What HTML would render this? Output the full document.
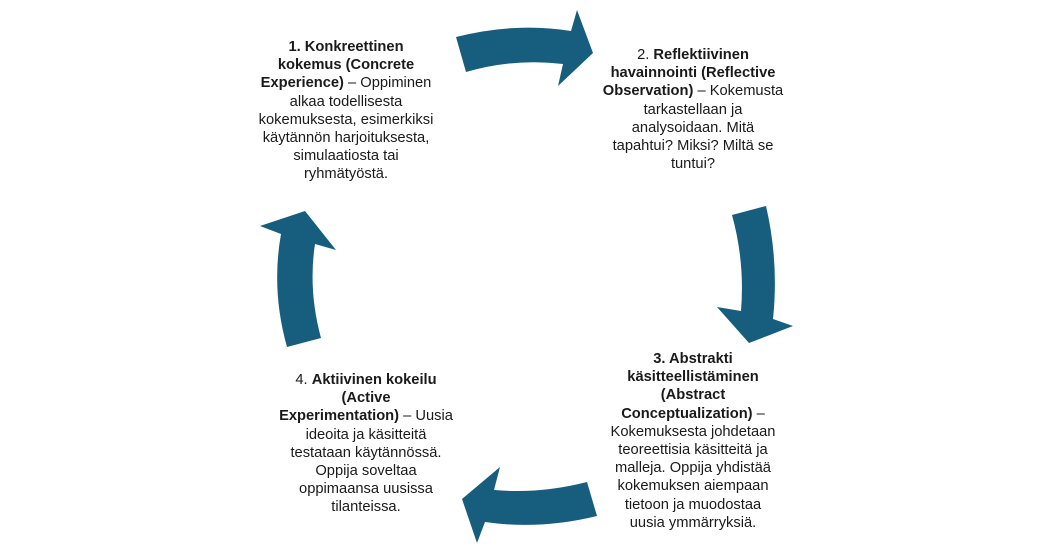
<!DOCTYPE html>
<html><head><meta charset="utf-8"><style>
html,body{margin:0;padding:0;background:#fff;width:1052px;height:553px;overflow:hidden;position:relative}
.t{position:absolute;font-family:"Liberation Sans",sans-serif;font-size:14.7px;line-height:18.2px;color:#1a1a1a;text-align:center;white-space:nowrap;transform:translateX(-50%)}
b{font-weight:bold}
svg{position:absolute;left:0;top:0}
</style></head><body>
<svg width="1052" height="553" viewBox="0 0 1052 553">
<g fill="#175e7e">
<path d="M456,37 Q515,22 571,31 L577,10 L593,53 L558,86 L563,64 Q515,58 466,72 Z"/>
<path d="M732,215 L766,206 Q779,262 773,319 L793,326 L749,343 L717,307 L741,311 Q745,262 732,215 Z"/>
<path d="M587,482 Q540,494 494,490 L500,467 L462,499 L477,543 L485,522 Q540,530 597,516 Z"/>
<path d="M287,347 Q271,290 281,234 L260,226 L305,211 L336,250 L315,244 Q308,290 321,338 Z"/>
</g>
</svg>
<div class="t" style="left:346px;top:38px"><b>1. Konkreettinen<br>kokemus (Concrete<br>Experience)</b> – Oppiminen<br>alkaa todellisesta<br>kokemuksesta, esimerkiksi<br>käytännön harjoituksesta,<br>simulaatiosta tai<br>ryhmätyöstä.</div>
<div class="t" style="left:693px;top:46px">2. <b>Reflektiivinen<br>havainnointi (Reflective<br>Observation)</b> – Kokemusta<br>tarkastellaan ja<br>analysoidaan. Mitä<br>tapahtui? Miksi? Miltä se<br>tuntui?</div>
<div class="t" style="left:693px;top:350px"><b>3. Abstrakti<br>käsitteellistäminen<br>(Abstract<br>Conceptualization)</b> –<br>Kokemuksesta johdetaan<br>teoreettisia käsitteitä ja<br>malleja. Oppija yhdistää<br>kokemuksen aiempaan<br>tietoon ja muodostaa<br>uusia ymmärryksiä.</div>
<div class="t" style="left:366px;top:371px">4. <b>Aktiivinen kokeilu<br>(Active<br>Experimentation)</b> – Uusia<br>ideoita ja käsitteitä<br>testataan käytännössä.<br>Oppija soveltaa<br>oppimaansa uusissa<br>tilanteissa.</div>
</body></html>
